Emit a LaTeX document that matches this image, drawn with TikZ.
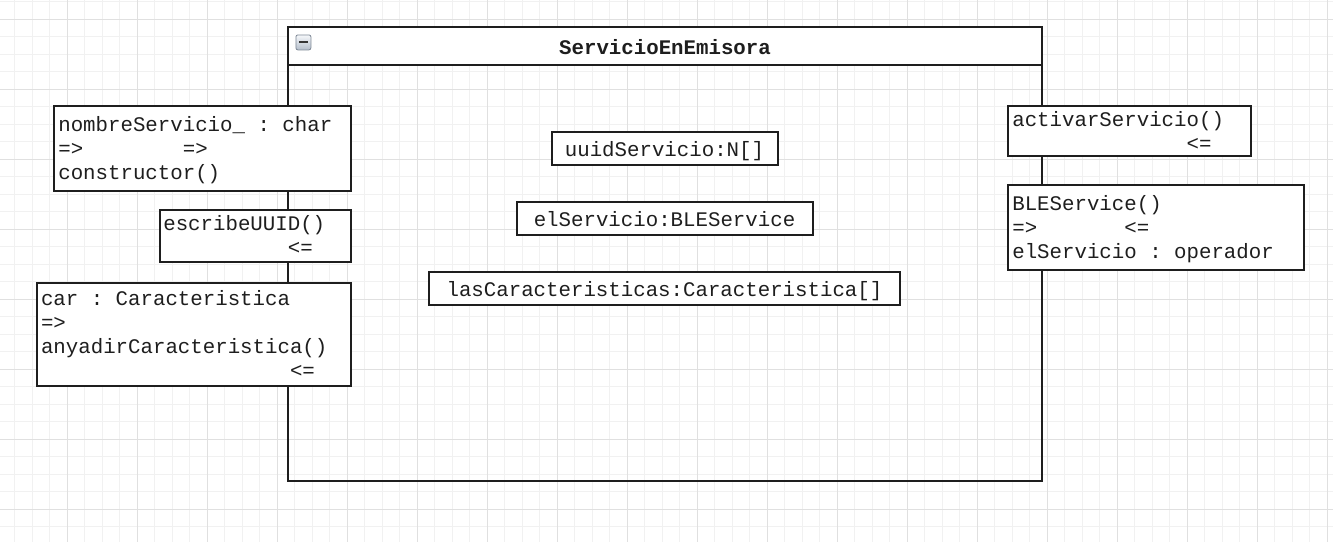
\documentclass[tikz,border=0pt]{standalone}
\usepackage{fontspec}
\newfontfamily\umlfont{Liberation Mono}
\definecolor{gridmajor}{HTML}{E0E0E0}
\definecolor{gridminor}{HTML}{F1F1F1}
\definecolor{ink}{HTML}{1E1E1E}
\definecolor{iconborder}{HTML}{7E8896}
\definecolor{icontop}{HTML}{F6F8FB}
\definecolor{iconbottom}{HTML}{B4BECB}
\tikzset{
  box/.style={draw=ink, line width=2pt, fill=white, rectangle, inner sep=0pt, outer sep=0pt, anchor=north west},
  txt/.style={text=ink, inner sep=0pt, outer sep=0pt, anchor=base west, font=\umlfont\fontsize{20.75}{24}\selectfont},
  ctxt/.style={txt, anchor=base},
  ttl/.style={txt, anchor=base, font=\umlfont\bfseries\fontsize{20.75}{24}\selectfont},
}
\begin{document}
\begin{tikzpicture}[x=1pt,y=-1pt]
\useasboundingbox (0,0) rectangle (1333,542);
\fill[white] (0,0) rectangle (1333,542);
% grid
\begin{scope}
\clip (0,0) rectangle (1333,542);
\foreach \k in {0,...,76} \draw[gridminor, line width=1pt] ({14.8+17.5*\k},0) -- ({14.8+17.5*\k},542);
\foreach \k in {0,...,30} \draw[gridminor, line width=1pt] (0,{1.8+17.5*\k}) -- (1333,{1.8+17.5*\k});
\foreach \k in {0,...,18} \draw[gridmajor, line width=1pt] ({67.3+70*\k},0) -- ({67.3+70*\k},542);
\foreach \k in {0,...,7} \draw[gridmajor, line width=1pt] (0,{19.3+70*\k}) -- (1333,{19.3+70*\k});
\end{scope}
% class frame
\node[box, fill=none, minimum width=754.3pt, minimum height=454.2pt] (cls) at (287.7,26.5) {};
\fill[white] (288.7,27.5) rectangle (1041,64);
\draw[ink, line width=2pt] (287.7,65) coordinate (hl) -- (1042,65) coordinate (hr);
\node[draw=iconborder, line width=0.8pt, rounded corners=2pt, top color=icontop, bottom color=iconbottom, minimum width=15pt, minimum height=15pt, inner sep=0pt, anchor=north west] (icon) at (295.5,34.5) {};
\draw[ink!90, line width=2.6pt] ([xshift=-4.5pt,yshift=0.3pt]icon.center) -- ([xshift=4.5pt,yshift=0.3pt]icon.center);
\node[ttl] (title) at (665,54) {ServicioEnEmisora};
% left boxes
\node[box, minimum width=296.4pt, minimum height=85.3pt] (b1) at (54.3,106) {};
\node[txt] (b1a) at (58.3,131) {nombreServicio\_~:~char};
\node[txt] (b1b) at (58.3,155) {=>~~~~~~~~=>};
\node[txt] (b1c) at (58.3,179) {constructor()};
\node[box, minimum width=190.7pt, minimum height=51.4pt] (b2) at (160,210.3) {};
\node[txt] (b2a) at (163.3,230.7) {escribeUUID()};
\node[txt] (b2b) at (163.3,254.7) {~~~~~~~~~~<=};
\node[box, minimum width=313.7pt, minimum height=103pt] (b3) at (37,282.7) {};
\node[txt] (b3a) at (41,305) {car~:~Caracteristica};
\node[txt] (b3b) at (41,329) {=>};
\node[txt] (b3c) at (41,353.3) {anyadirCaracteristica()};
\node[txt] (b3d) at (41,377.3) {~~~~~~~~~~~~~~~~~~~~<=};
% right boxes
\node[box, minimum width=243pt, minimum height=50.3pt] (r1) at (1008.3,106) {};
\node[txt] (r1a) at (1012.3,126.3) {activarServicio()};
\node[txt] (r1b) at (1012.3,150.3) {~~~~~~~~~~~~~~<=};
\node[box, minimum width=295.7pt, minimum height=84.7pt] (r2) at (1008.3,185) {};
\node[txt] (r2a) at (1012.3,210) {BLEService()};
\node[txt] (r2b) at (1012.3,234) {=>~~~~~~~<=};
\node[txt] (r2c) at (1012.3,258) {elServicio~:~operador};
% center attributes
\node[box, minimum width=226.3pt, minimum height=33pt] (c1) at (551.7,132) {};
\node[ctxt] (c1t) at (664.5,156.7) {uuidServicio:N[]};
\node[box, minimum width=296.3pt, minimum height=33.3pt] (c2) at (517,201.7) {};
\node[ctxt] (c2t) at (664.5,226) {elServicio:BLEService};
\node[box, minimum width=470.7pt, minimum height=32.7pt] (c3) at (429.3,272) {};
\node[ctxt] (c3t) at (664.5,296) {lasCaracteristicas:Caracteristica[]};
\end{tikzpicture}
\end{document}
